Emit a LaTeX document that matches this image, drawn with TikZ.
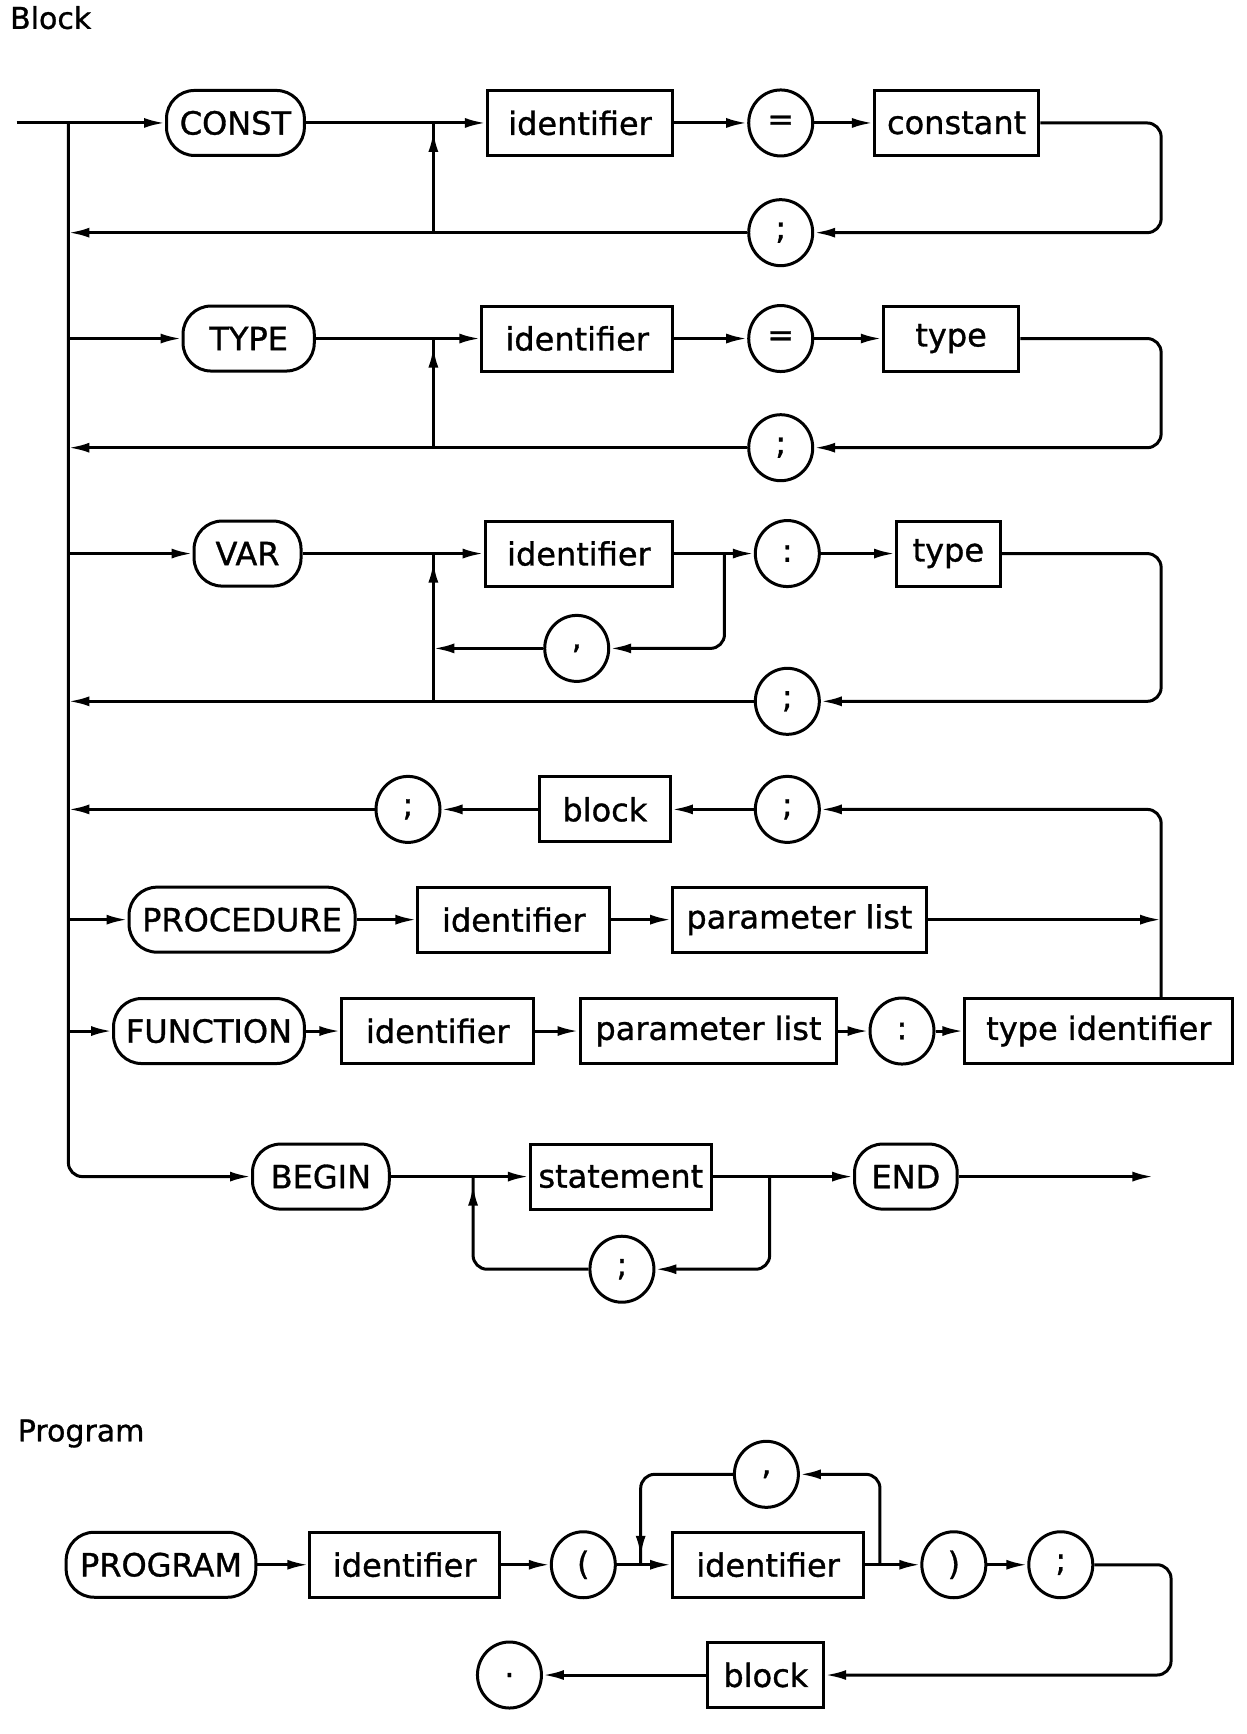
\documentclass[tikz,border=0pt]{standalone}
\usepackage{fontspec}
\setmainfont{DejaVu Sans}
\newfontface\diagfont[FakeBold=1]{DejaVu Sans}
\usetikzlibrary{arrows.meta,shapes.geometric,decorations.markings}
\def\sc{1.1027pt}
\newcommand\bx[5]{\node[boxs, minimum width={(#3-#2)*\sc}] (#1) at ({(#2+#3)/2},#4) {#5};}
\newcommand\kw[5]{\node[kws, minimum width={(#3-#2)*\sc}] (#1) at ({(#2+#3)/2},#4) {#5};}
\newcommand\ci[4]{\node[cir] (#1) at (#2,#3) {#4};}
\begin{document}
\begin{tikzpicture}[x=1.1027pt,y=-1.1027pt,
  >={Latex[length=21pt,width=10pt]},
  ln/.style={line width=3pt},
  rc/.style={rounded corners=14pt},
  boxs/.style={draw,line width=3pt,rectangle,inner sep=0pt,minimum height=65pt,font=\fontsize{32}{38}\diagfont},
  kws/.style={draw,line width=3pt,rectangle,rounded corners=28pt,inner sep=0pt,minimum height=65pt,font=\fontsize{32}{38}\diagfont},
  cir/.style={draw,line width=3pt,ellipse,inner sep=0pt,minimum width=64pt,minimum height=66pt,font=\fontsize{32}{38}\diagfont},
  lbl/.style={anchor=west,inner sep=0pt,font=\fontsize{30}{36}\diagfont},
  midarrow/.style={postaction={decorate},decoration={markings,mark=at position #1 with {\arrow{>}}}}
]
\useasboundingbox (0,0) rectangle (1130,1572.5);
\node[lbl] (blocklabel) at (9,16) {Block};
\node[lbl] (proglabel) at (16,1300) {Program};
\coordinate (S) at (15,111.5);
\coordinate (T) at (62,111.5);
\coordinate (R) at (1053,0);
\coordinate (Lx) at (393,0);
% row CONST
\kw{const}{151}{276}{111.5}{CONST}
\bx{ida}{442}{610}{111.5}{identifier}
\ci{eqa}{708}{111.5}{=}
\bx{cst}{793}{942}{111.5}{constant}
\ci{sca}{708}{211}{;}
\draw[ln,->] (S) -- (const);
\draw[ln,->] (const) -- (ida);
\draw[ln,->] (ida) -- (eqa);
\draw[ln,->] (eqa) -- (cst);
\draw[ln,->,rc] (cst.east) -- (cst.east -| R) |- (sca);
\draw[ln,->] (sca) -- (sca -| T);
\draw[ln,midarrow=-8pt] (sca -| Lx) -- (ida -| Lx);
% row TYPE
\kw{typek}{166}{285}{307}{TYPE}
\bx{idb}{437}{610}{307}{identifier}
\ci{eqb}{708}{307}{=}
\bx{tyb}{801}{924}{307}{type}
\ci{scb}{708}{406}{;}
\draw[ln,->] (typek -| T) -- (typek);
\draw[ln,->] (typek) -- (idb);
\draw[ln,->] (idb) -- (eqb);
\draw[ln,->] (eqb) -- (tyb);
\draw[ln,->,rc] (tyb.east) -- (tyb.east -| R) |- (scb);
\draw[ln,->] (scb) -- (scb -| T);
\draw[ln,midarrow=-8pt] (scb -| Lx) -- (idb -| Lx);
% row VAR
\kw{vark}{176}{273}{502}{VAR}
\bx{idc}{440}{610}{502}{identifier}
\ci{colc}{714}{502}{:}
\bx{tyc}{813}{907}{502}{type}
\ci{cmc}{523}{588}{,}
\ci{scc}{714}{636}{;}
\coordinate (Bc) at (657,502);
\draw[ln,->] (vark -| T) -- (vark);
\draw[ln,->] (vark) -- (idc);
\draw[ln,->] (idc) -- (colc);
\draw[ln,->] (colc) -- (tyc);
\draw[ln,->,rc] (tyc.east) -- (tyc.east -| R) |- (scc);
\draw[ln,->] (scc) -- (scc -| T);
\draw[ln,->,rc] (Bc) |- (cmc);
\draw[ln,->] (cmc) -- (cmc -| Lx);
\draw[ln,midarrow=-8pt] (scc -| Lx) -- (idc -| Lx);
% row block
\ci{scd1}{370}{734}{;}
\bx{blk}{489}{608}{734}{block}
\ci{scd2}{714}{734}{;}
% row PROCEDURE
\kw{proc}{117}{322}{834}{PROCEDURE}
\bx{ide}{379}{553}{834}{identifier}
\bx{ple}{610}{840}{834}{parameter list}
% row FUNCTION
\kw{func}{103}{276}{935}{FUNCTION}
\bx{idf}{310}{484}{935}{identifier}
\bx{plf}{526}{759}{935}{parameter list}
\ci{colf}{818}{935}{:}
\bx{tyid}{875}{1118}{935}{type identifier}
\draw[ln,->,rc] (tyid.north -| R) |- (scd2);
\draw[ln,->] (scd2) -- (blk);
\draw[ln,->] (blk) -- (scd1);
\draw[ln,->] (scd1) -- (scd1 -| T);
\draw[ln,->] (proc -| T) -- (proc);
\draw[ln,->] (proc) -- (ide);
\draw[ln,->] (ide) -- (ple);
\draw[ln,->] (ple) -- (ple -| R);
\draw[ln,->] (func -| T) -- (func);
\draw[ln,->] (func) -- (idf);
\draw[ln,->] (idf) -- (plf);
\draw[ln,->] (plf) -- (colf);
\draw[ln,->] (colf) -- (tyid);
% row BEGIN
\kw{begin}{229}{353}{1067}{BEGIN}
\bx{stm}{481}{645}{1067}{statement}
\kw{endk}{775}{868}{1067}{END}
\ci{scg}{564}{1151}{;}
\coordinate (EndP) at (1046,1067);
\coordinate (Jr) at (698,1067);
\coordinate (Jl) at (429,1067);
\draw[ln,->,rc] (T) |- (begin);
\draw[ln,->] (begin) -- (stm);
\draw[ln,->] (stm) -- (endk);
\draw[ln,->] (endk) -- (EndP);
\draw[ln,->,rc] (Jr) |- (scg);
\draw[ln,rc,midarrow=-8pt] (scg) -| (Jl);
% Program
\kw{prog}{60}{232}{1419}{PROGRAM}
\bx{idp}{281}{453}{1419}{identifier}
\ci{lp}{529}{1419}{(}
\bx{idq}{610}{783}{1419}{identifier}
\ci{cmp}{695}{1337}{,}
\ci{rp}{865}{1419}{)}
\ci{scp}{962}{1419}{;}
\bx{blkp}{642}{747}{1519}{block}
\ci{dot}{462}{1519}{.}
\coordinate (Rp) at (1062,0);
\coordinate (Jpr) at (798,1419);
\coordinate (Jpl) at (581,1419);
\draw[ln,->] (prog) -- (idp);
\draw[ln,->] (idp) -- (lp);
\draw[ln,->] (lp) -- (idq);
\draw[ln,->] (idq) -- (rp);
\draw[ln,->] (rp) -- (scp);
\draw[ln,->,rc] (scp.east) -- (scp.east -| Rp) |- (blkp);
\draw[ln,->] (blkp) -- (dot);
\draw[ln,->,rc] (Jpr) |- (cmp);
\draw[ln,rc,midarrow=-8pt] (cmp) -| (Jpl);
\end{tikzpicture}
\end{document}
